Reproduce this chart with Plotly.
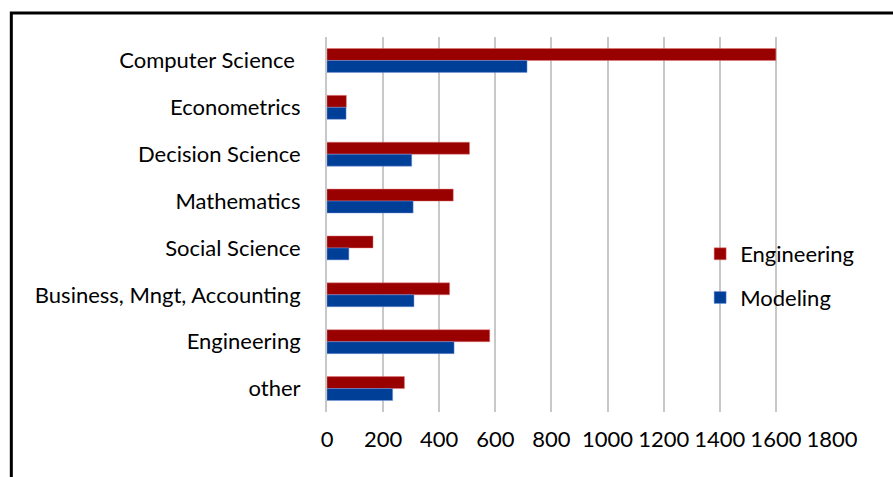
import plotly.graph_objects as go

categories = ["Computer Science ", "Econometrics", "Decision Science", "Mathematics",
              "Social Science", "Business, Mngt, Accounting", "Engineering", "other"]
engineering = [1600, 69, 508, 450, 164, 437, 580, 276]
modeling = [713, 68, 302, 307, 78, 310, 453, 234]
x_ticks = [0, 200, 400, 600, 800, 1000, 1200, 1400, 1600, 1800]

FONT = "Lato"
RED = "#990000"
BLUE = "#003f98"

fig = go.Figure()
fig.add_trace(go.Bar(
    y=categories, x=engineering, orientation="h", name="Engineering",
    marker=dict(color=RED, line=dict(color="rgba(230,120,120,0.6)", width=0.8)),
    legendgroup="eng",
))
fig.add_trace(go.Bar(
    y=categories, x=modeling, orientation="h", name="Modeling",
    marker=dict(color=BLUE, line=dict(color="rgba(120,150,220,0.6)", width=0.8)),
    legendgroup="mod",
))

px_per = 504.4
fig.update_layout(
    width=893, height=477,
    margin=dict(l=327, r=61, t=37, b=65, pad=0),
    paper_bgcolor="white", plot_bgcolor="white",
    barmode="group", bargap=0.49, bargroupgap=0,
    font=dict(family=FONT, size=22, color="black"),
    showlegend=True,
    legend=dict(
        x=(700 - 327.3) / px_per, xanchor="left",
        y=(412 - 276) / 375, yanchor="middle",
        font=dict(family=FONT, size=22, color="black"),
        bgcolor="rgba(0,0,0,0)", tracegroupgap=12,
        traceorder="grouped",
    ),
    xaxis=dict(
        range=[0, 1800], tickvals=x_ticks, showgrid=True,
        gridcolor="#c8c8c8", gridwidth=2, zeroline=False,
        showline=False, ticks="", ticklabelstandoff=12,
        tickfont=dict(family=FONT, size=22, color="black"),
    ),
    yaxis=dict(
        autorange="reversed", showgrid=False, zeroline=False,
        showline=True, linecolor="#c8c8c8", linewidth=2,
        ticks="", ticklabelstandoff=20,
        tickfont=dict(family=FONT, size=22, color="black"),
    ),
    shapes=[dict(
        type="rect", xref="paper", yref="paper",
        x0=(12 - 327.3) / px_per, x1=1.3,
        y0=-0.4, y1=(412 - 13) / 375,
        line=dict(color="black", width=3), fillcolor="rgba(0,0,0,0)",
        layer="above",
    )],
)

fig.write_html("out.html", config={"displayModeBar": False},
               post_script="document.body.style.margin='0';document.body.style.overflow='hidden';")
